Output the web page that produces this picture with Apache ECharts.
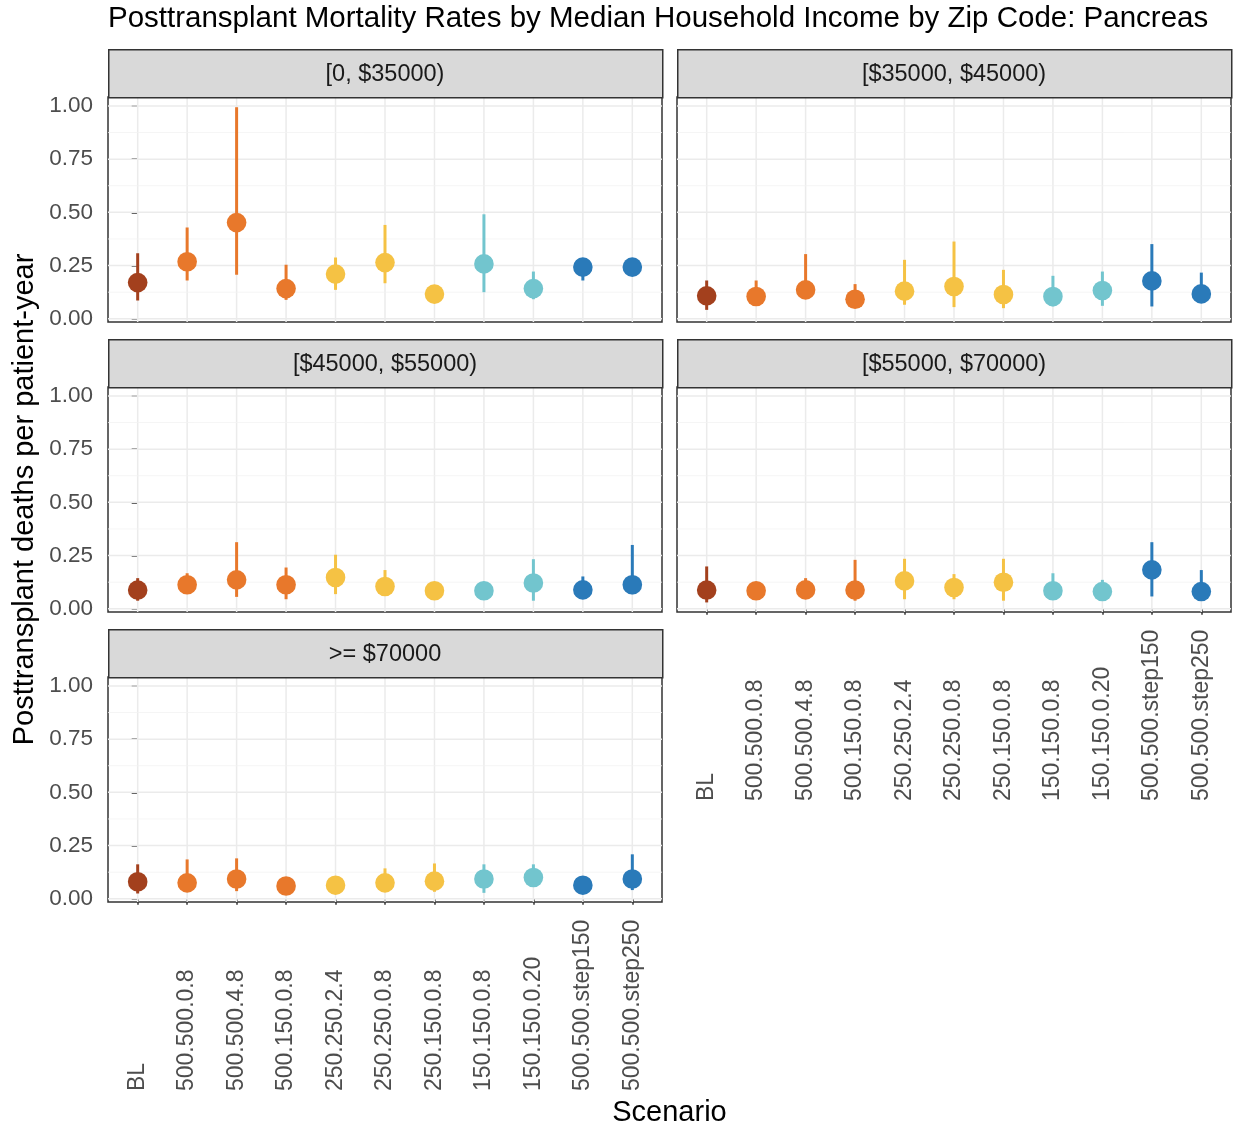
<!DOCTYPE html>
<html><head><meta charset="utf-8">
<script src="https://cdn.jsdelivr.net/npm/echarts@6/dist/echarts.min.js"></script>
<style>html,body{margin:0;padding:0;background:#fff}#c{width:1235px;height:1131px}</style>
</head><body><div id="c"></div>
<script>
// ---------- DATA ----------
const scenarios = ['BL','500.500.0.8','500.500.4.8','500.150.0.8','250.250.2.4','250.250.0.8','250.150.0.8','150.150.0.8','150.150.0.20','500.500.step150','500.500.step250'];
const scenarioGroup = [0,1,1,1,2,2,2,3,3,4,4];
const panels = ['[0, $35000)','[$35000, $45000)','[$45000, $55000)','[$55000, $70000)','>= $70000'];
const yTicks = [0, 0.25, 0.5, 0.75, 1];
const yMinorTicks = [0.125, 0.375, 0.625, 0.875];
const yTickLabels = ['0.00','0.25','0.50','0.75','1.00'];

// [0, $35000)
const rate0  = [0.170,0.268,0.452,0.142,0.210,0.264,0.116,0.258,0.142,0.243,0.243];
const lower0 = [0.086,0.180,0.207,0.089,0.136,0.167,0.095,0.125,0.092,0.180,0.222];
const upper0 = [0.308,0.429,0.994,0.254,0.288,0.441,0.140,0.491,0.222,0.262,0.265];
// [$35000, $45000)
const rate1  = [0.108,0.105,0.136,0.092,0.130,0.152,0.114,0.105,0.133,0.178,0.117];
const lower1 = [0.042,0.075,0.100,0.060,0.066,0.055,0.050,0.058,0.061,0.058,0.080];
const upper1 = [0.180,0.180,0.304,0.163,0.277,0.363,0.230,0.202,0.222,0.351,0.217];
// [$45000, $55000)
const rate2  = [0.088,0.113,0.136,0.113,0.147,0.105,0.085,0.085,0.121,0.089,0.113];
const lower2 = [0.038,0.080,0.056,0.045,0.069,0.070,0.060,0.060,0.038,0.060,0.069];
const upper2 = [0.144,0.167,0.313,0.194,0.254,0.182,0.110,0.110,0.233,0.152,0.300];
// [$55000, $70000)
const rate3  = [0.088,0.085,0.089,0.088,0.131,0.100,0.125,0.085,0.081,0.183,0.081];
const lower3 = [0.030,0.060,0.060,0.038,0.045,0.045,0.038,0.060,0.060,0.058,0.050];
const upper3 = [0.199,0.110,0.144,0.230,0.235,0.163,0.235,0.167,0.136,0.313,0.182];
// >= $70000
const rate4  = [0.080,0.075,0.093,0.060,0.064,0.075,0.083,0.093,0.100,0.064,0.093];
const lower4 = [0.025,0.050,0.036,0.035,0.045,0.050,0.033,0.028,0.070,0.045,0.041];
const upper4 = [0.162,0.185,0.190,0.085,0.085,0.143,0.166,0.162,0.162,0.085,0.209];

const rates = [rate0, rate1, rate2, rate3, rate4];
const lowers = [lower0, lower1, lower2, lower3, lower4];
const uppers = [upper0, upper1, upper2, upper3, upper4];

// ---------- STYLE ----------
const groupColors = ['#A3401D','#E8782B','#F5C244','#72C5CE','#2A7AB9'];
const FONT = '"Liberation Sans", Arial, sans-serif';
const panelW = 554, panelH = 225, stripH = 48;
const colLeft = [108, 677];
const rowTop = [97, 387, 677];
const layout = [[0,0],[1,0],[0,1],[1,1],[0,2]]; // [col,row]
const hasXLabels = [false,false,false,true,true];
const hasYLabels = [true,false,true,false,true];

const chart = echarts.init(document.getElementById('c'), null, {renderer:'canvas'});

const grids = [], xAxes = [], yAxes = [], series = [], graphics = [];
const idx = scenarios.map((s,i)=>i);

function gridRender(params, api) {
  const cs = params.coordSys;
  const kind = api.value(0), v = api.value(1);
  if (kind === 0) {
    const x = api.coord([v, 0])[0];
    return {type:'line', shape:{x1:x,y1:cs.y,x2:x,y2:cs.y+cs.height}, style:{stroke:'#EBEBEB', lineWidth:1.5}};
  }
  const y = api.coord([0, v])[1];
  return {type:'line', shape:{x1:cs.x,y1:y,x2:cs.x+cs.width,y2:y},
    style:{stroke: kind === 1 ? '#EBEBEB' : '#F3F3F3', lineWidth: kind === 1 ? 1.5 : 0.8}};
}
function pointRender(params, api) {
  const i = api.value(0);
  const mid = api.coord([i, api.value(1)]);
  const lo = api.coord([i, api.value(2)]);
  const hi = api.coord([i, api.value(3)]);
  const color = groupColors[scenarioGroup[i]];
  return {type:'group', children:[
    {type:'line', shape:{x1:hi[0],y1:hi[1],x2:lo[0],y2:lo[1]}, style:{stroke:color, lineWidth:3}},
    {type:'circle', shape:{cx:mid[0],cy:mid[1],r:9.8}, style:{fill:color}}
  ]};
}

const gridData = [];
idx.forEach(i => gridData.push([0, i]));
yTicks.forEach(v => gridData.push([1, v]));
yMinorTicks.forEach(v => gridData.push([2, v]));

panels.forEach((name, k) => {
  const [c, r] = layout[k];
  const left = colLeft[c], top = rowTop[r];
  grids.push({left:left, top:top, width:panelW, height:panelH, show:true,
    backgroundColor:'#fff', borderColor:'#333333', borderWidth:1.5, containLabel:false});
  xAxes.push({gridIndex:k, type:'value', min:-0.6, max:10.6,
    splitLine:{show:false}, axisLine:{show:false},
    axisTick:{show:hasXLabels[k], customValues:idx, length:6, lineStyle:{color:'#333', width:1.5}},
    axisLabel:{show:hasXLabels[k], customValues:idx, formatter:v=>scenarios[Math.round(v)],
      rotate:90, align:'left', verticalAlign:'middle', margin:189, fontSize:23,
      color:'#4D4D4D', fontFamily:FONT}});
  yAxes.push({gridIndex:k, type:'value', min:-0.015, max:1.042,
    splitLine:{show:false}, axisLine:{show:false},
    axisTick:{show:hasYLabels[k], customValues:yTicks, length:6, lineStyle:{color:'#333', width:1.5}},
    axisLabel:{show:hasYLabels[k], customValues:yTicks,
      formatter:v=>yTickLabels[yTicks.indexOf(v)] || v.toFixed(2),
      margin:15, fontSize:22.5, color:'#4D4D4D', fontFamily:FONT}});
  series.push({type:'custom', xAxisIndex:k, yAxisIndex:k, z:1, silent:true,
    renderItem:gridRender, data:gridData, clip:false});
  series.push({type:'custom', xAxisIndex:k, yAxisIndex:k, z:3, silent:true,
    renderItem:pointRender,
    data: idx.map(i => [i, rates[k][i], lowers[k][i], uppers[k][i]]),
    encode:{x:0, y:[1,2,3]}});
  graphics.push({type:'rect', left:left, top:top-stripH, z:10,
    shape:{x:0, y:0, width:panelW, height:stripH},
    style:{fill:'#D9D9D9', stroke:'#333333', lineWidth:1.5}});
  graphics.push({type:'text', x:left+panelW/2, y:top-stripH/2+2, z:11,
    style:{text:name, fill:'#1A1A1A', font:'23.5px ' + FONT, textAlign:'center', textVerticalAlign:'middle'}});
});

graphics.push({type:'text', x:25, y:499.5, rotation:Math.PI/2, z:11,
  style:{text:'Posttransplant deaths per patient-year', fill:'#000', font:'29px ' + FONT, textAlign:'center', textVerticalAlign:'middle'}});
graphics.push({type:'text', x:669.5, y:1113, z:11,
  style:{text:'Scenario', fill:'#000', font:'29px ' + FONT, textAlign:'center', textVerticalAlign:'middle'}});

chart.setOption({
  animation:false,
  backgroundColor:'#fff',
  title:{text:'Posttransplant Mortality Rates by Median Household Income by Zip Code: Pancreas',
    left:108, top:4, padding:0, textStyle:{fontSize:29.5, fontWeight:'normal', color:'#000', fontFamily:FONT}},
  grid:grids, xAxis:xAxes, yAxis:yAxes, series:series, graphic:graphics
});
</script></body></html>
